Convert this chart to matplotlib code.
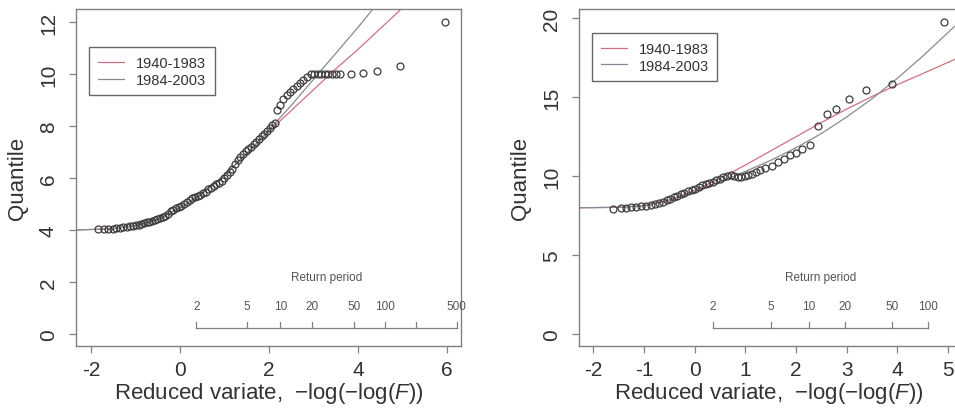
import matplotlib
matplotlib.use('Agg')
import matplotlib.pyplot as plt
import matplotlib.transforms as mtransforms
import numpy as np

plt.rcParams['font.family'] = ['Liberation Sans', 'DejaVu Sans']
plt.rcParams['mathtext.fontset'] = 'custom'
plt.rcParams['mathtext.rm'] = 'Liberation Sans'
plt.rcParams['mathtext.it'] = 'Liberation Sans:italic'
plt.rcParams['axes.unicode_minus'] = False

# ---- left panel: empirical quantiles vs reduced variate ----
left_x = [-1.85, -1.72, -1.62, -1.52, -1.44, -1.36, -1.28, -1.20, -1.13, -1.06,
          -0.99, -0.93, -0.87, -0.81, -0.75, -0.69, -0.63, -0.57, -0.51, -0.45,
          -0.39, -0.33, -0.27, -0.21, -0.15, -0.09, -0.03, 0.03, 0.09, 0.15,
          0.21, 0.27, 0.33, 0.39, 0.45, 0.51, 0.57, 0.63, 0.69, 0.75,
          0.81, 0.87, 0.93, 0.99, 1.05, 1.11, 1.17, 1.23, 1.29, 1.35,
          1.41, 1.47, 1.53, 1.59, 1.65, 1.71, 1.77, 1.83, 1.89, 1.95,
          2.01, 2.07, 2.12, 2.18, 2.25, 2.32, 2.39, 2.46, 2.54, 2.62,
          2.70, 2.77, 2.85, 2.93, 3.01, 3.09, 3.17, 3.25, 3.33, 3.42,
          3.51, 3.60, 3.85, 4.11, 4.43, 4.93, 5.96]
left_y = [4.03, 4.03, 4.04, 4.05, 4.06, 4.08, 4.10, 4.12, 4.14, 4.16,
          4.19, 4.21, 4.23, 4.26, 4.29, 4.32, 4.35, 4.38, 4.42, 4.46,
          4.50, 4.55, 4.62, 4.72, 4.78, 4.83, 4.88, 4.94, 5.01, 5.07,
          5.17, 5.22, 5.27, 5.31, 5.36, 5.41, 5.47, 5.56, 5.62, 5.69,
          5.75, 5.82, 5.90, 6.01, 6.12, 6.22, 6.36, 6.55, 6.68, 6.80,
          6.92, 7.03, 7.12, 7.20, 7.30, 7.38, 7.50, 7.60, 7.70, 7.80,
          7.92, 8.02, 8.10, 8.62, 8.80, 9.02, 9.18, 9.30, 9.42, 9.55,
          9.65, 9.75, 9.88, 9.98, 10.0, 10.0, 10.0, 10.0, 10.0, 10.0,
          10.0, 10.0, 10.0, 10.03, 10.12, 10.3, 12.0]

# fitted curves
left_fit_x = [-2.34, -1.5, -1.0, -0.5, 0.0, 0.5, 1.0, 1.5, 2.0, 2.5, 3.0, 3.5, 4.0, 4.5, 5.0]
left_fit_early = [4.0, 4.05, 4.17, 4.42, 4.85, 5.42, 6.12, 6.95, 7.8, 8.6, 9.4, 10.2, 10.95, 11.75, 12.55]
left_fit_late = [4.0, 4.05, 4.17, 4.42, 4.85, 5.4, 6.1, 6.95, 7.85, 8.8, 9.8, 10.8, 11.8, 12.85, 13.9]

# ---- right panel ----
right_x = [-1.61, -1.45, -1.35, -1.25, -1.15, -1.05, -0.95, -0.86, -0.78, -0.70,
           -0.62, -0.55, -0.48, -0.41, -0.34, -0.27, -0.20, -0.13, -0.06, 0.01,
           0.08, 0.15, 0.22, 0.29, 0.36, 0.43, 0.50, 0.57, 0.64, 0.71,
           0.78, 0.85, 0.92, 0.99, 1.06, 1.13, 1.21, 1.30, 1.40, 1.52,
           1.64, 1.76, 1.88, 2.00, 2.13, 2.27, 2.43, 2.61, 2.80, 3.05,
           3.38, 3.90, 4.92]
right_y = [7.94, 7.97, 8.0, 8.03, 8.06, 8.09, 8.13, 8.18, 8.25, 8.32,
           8.38, 8.48, 8.58, 8.68, 8.75, 8.85, 8.95, 9.05, 9.15, 9.22,
           9.32, 9.42, 9.52, 9.58, 9.65, 9.75, 9.85, 9.95, 10.03, 10.05,
           10.0, 9.98, 9.97, 10.0, 10.05, 10.15, 10.27, 10.38, 10.5, 10.65,
           10.9, 11.1, 11.35, 11.5, 11.75, 12.0, 13.2, 13.97, 14.29, 14.9,
           15.45, 15.87, 19.8]

right_fit_x = [-2.28, -1.5, -1.0, -0.5, 0.0, 0.5, 1.0, 1.5, 2.0, 2.5, 3.0, 3.5, 4.0, 4.5, 5.2]
right_fit_early = [8.0, 8.03, 8.15, 8.5, 9.1, 9.85, 10.7, 11.6, 12.5, 13.4, 14.25, 15.05, 15.8, 16.5, 17.5]
right_fit_late = [8.0, 8.03, 8.12, 8.45, 9.0, 9.65, 10.3, 11.0, 11.8, 12.7, 13.75, 14.9, 16.2, 17.6, 19.7]

labels = ['1940-1983', '1984-2003']
left_periods = [2, 5, 10, 20, 50, 100, 200, 500]
left_period_labels = ['2', '5', '10', '20', '50', '100', '', '500']
right_periods = [2, 5, 10, 20, 50, 100]
right_period_labels = ['2', '5', '10', '20', '50', '100']

RED = '#d07080'
GRAY = '#8a8a92'
PTS = '#3c3c3c'
AXC = '#808080'
TXT = '#333333'


def reduced_variate(T):
    T = np.asarray(T, dtype=float)
    return -np.log(-np.log(1.0 - 1.0 / T))


def return_period_axis(ax, periods, period_labels):
    trans = mtransforms.blended_transform_factory(ax.transData, ax.transAxes)
    xs = reduced_variate(periods)
    ax.plot([xs[0], xs[-1]], [0.053, 0.053], color=AXC, lw=0.9, transform=trans, clip_on=False)
    for xv, lab in zip(xs, period_labels):
        ax.plot([xv, xv], [0.053, 0.07], color=AXC, lw=0.9, transform=trans, clip_on=False)
        if lab:
            ax.text(xv, 0.118, lab, ha='center', va='center', fontsize=8.5,
                    color='#555555', transform=trans, clip_on=False)
    ax.text((xs[0] + xs[-1]) / 2, 0.205, 'Return period', ha='center', va='center',
            fontsize=8.5, color='#555555', transform=trans)


def style_axes(ax, xlim, ylim, xticks, yticks):
    ax.set_xlim(*xlim)
    ax.set_ylim(*ylim)
    ax.set_xticks(xticks)
    ax.set_yticks(yticks)
    ax.set_yticklabels([str(v) for v in yticks], rotation=90, va='center')
    for s in ax.spines.values():
        s.set_color(AXC)
        s.set_linewidth(1.0)
    ax.tick_params(direction='out', length=5, width=0.9, color=AXC,
                   labelsize=15, labelcolor=TXT)
    ax.tick_params(axis='x', pad=5)
    ax.tick_params(axis='y', pad=8)
    ax.set_xlabel(r'Reduced variate,  $-\log(-\log(F))$', fontsize=16, color=TXT, labelpad=1)
    ax.set_ylabel('Quantile', fontsize=16, color=TXT, labelpad=8)


fig = plt.figure(figsize=(9.55, 4.1), dpi=100)
ax1 = fig.add_axes([0.0796, 0.1537, 0.4031, 0.8220])
ax2 = fig.add_axes([0.6063, 0.1537, 0.3969, 0.8220])

# left
ax1.plot(left_fit_x, left_fit_early, color=RED, lw=0.9, label=labels[0])
ax1.plot(left_fit_x, left_fit_late, color=GRAY, lw=0.9, label=labels[1])
ax1.plot(left_x, left_y, 'o', mfc='none', mec=PTS, ms=5, mew=0.9)
style_axes(ax1, (-2.34, 6.31), (-0.46, 12.5), [-2, 0, 2, 4, 6], [0, 2, 4, 6, 8, 10, 12])
return_period_axis(ax1, left_periods, left_period_labels)
leg1 = ax1.legend(loc='upper left', bbox_to_anchor=(0.034, 0.887), borderaxespad=0,
                  fontsize=10.5, fancybox=False, edgecolor='#666666', framealpha=1,
                  handlelength=1.8, handletextpad=0.8, borderpad=0.6, labelspacing=0.2)
for t in leg1.get_texts():
    t.set_color(TXT)

# right
ax2.plot(right_fit_x, right_fit_early, color=RED, lw=0.9, label=labels[0])
ax2.plot(right_fit_x, right_fit_late, color=GRAY, lw=0.9, label=labels[1])
ax2.plot(right_x, right_y, 'o', mfc='none', mec=PTS, ms=5, mew=0.9)
style_axes(ax2, (-2.28, 5.2), (-0.76, 20.6), [-2, -1, 0, 1, 2, 3, 4, 5], [0, 5, 10, 15, 20])
return_period_axis(ax2, right_periods, right_period_labels)
leg2 = ax2.legend(loc='upper left', bbox_to_anchor=(0.034, 0.929), borderaxespad=0,
                  fontsize=10.5, fancybox=False, edgecolor='#666666', framealpha=1,
                  handlelength=1.8, handletextpad=0.8, borderpad=0.6, labelspacing=0.2)
for t in leg2.get_texts():
    t.set_color(TXT)

fig.savefig('out.png', dpi=100, facecolor='w')
plt.close()
